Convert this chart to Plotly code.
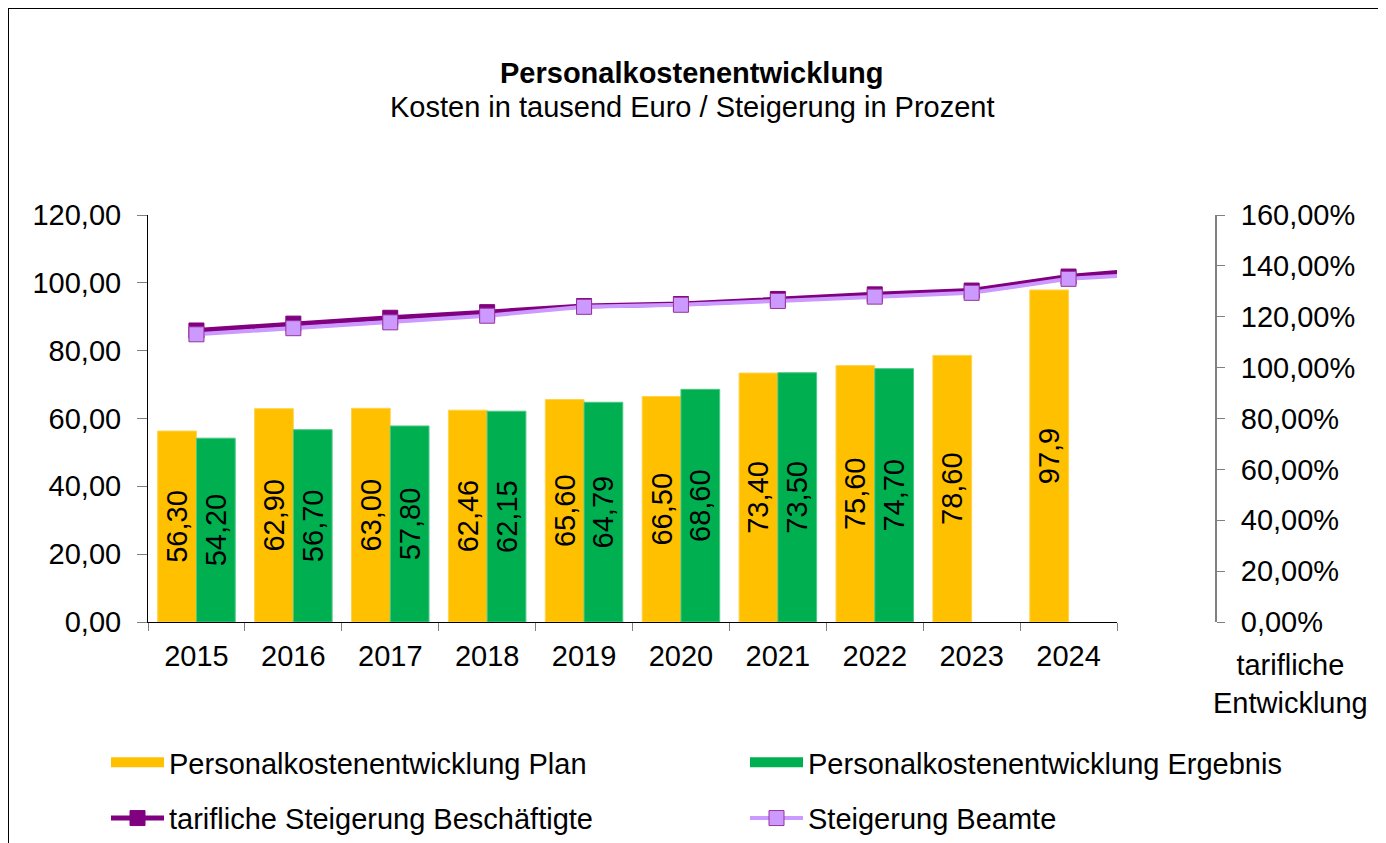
import plotly.graph_objects as go

# ---- data ----
years = ["2015", "2016", "2017", "2018", "2019", "2020", "2021", "2022", "2023", "2024"]
plan = [56.30, 62.90, 63.00, 62.46, 65.60, 66.50, 73.40, 75.60, 78.60, 97.9]
plan_labels = ["56,30", "62,90", "63,00", "62,46", "65,60", "66,50", "73,40", "75,60", "78,60", "97,9"]
ergebnis = [54.20, 56.70, 57.80, 62.15, 64.79, 68.60, 73.50, 74.70, None, None]
ergebnis_labels = ["54,20", "56,70", "57,80", "62,15", "64,79", "68,60", "73,50", "74,70", "", ""]
line_years = years + ["2025"]
beschaeftigte = [1.146, 1.173, 1.196, 1.218, 1.242, 1.250, 1.270, 1.288, 1.303, 1.358, 1.390]
beamte = [1.131, 1.155, 1.178, 1.204, 1.239, 1.247, 1.262, 1.279, 1.294, 1.349, 1.372]

# ---- layout constants (screen pixels; page body has an 8px margin) ----
OFF = 8
W, H = 1386 - OFF, 843 - OFF
L = 148 - OFF                 # left axis at screen x=148
T = 215 - OFF                 # top of value range at screen y=215
B = H - (622 - OFF)           # x axis at screen y=622
R = W - (1216 - OFF)          # right axis at screen x=1216
PW = W - L - R
PH = H - T - B
PLOT_RIGHT = 1117             # screen x of right edge of bar area
FONT = "Arial, Liberation Sans, sans-serif"
FS = 29

def px_x(sx):
    return (sx - OFF - L) / PW

def px_y(sy):
    return (H - B - (sy - OFF)) / PH

fig = go.Figure()

fig.add_trace(go.Bar(
    x=years, y=plan, name="Personalkostenentwicklung Plan",
    marker=dict(color="#FFC000", line=dict(color="#FFD34D", width=1)),
    text=plan_labels, textposition="inside", insidetextanchor="middle",
    textangle=-90, textfont=dict(color="black", size=FS, family=FONT),
    showlegend=False,
))
fig.add_trace(go.Bar(
    x=years, y=ergebnis, name="Personalkostenentwicklung Ergebnis",
    marker=dict(color="#00B050", line=dict(color="#4DC885", width=1)),
    text=ergebnis_labels, textposition="inside", insidetextanchor="middle",
    textangle=-90, textfont=dict(color="black", size=FS, family=FONT),
    showlegend=False,
))
fig.add_trace(go.Scatter(
    x=line_years, y=beschaeftigte, name="tarifliche Steigerung Beschäftigte",
    mode="lines+markers", yaxis="y2",
    line=dict(color="#800080", width=5),
    marker=dict(symbol="square", size=15, color="#800080", line=dict(color="#800080", width=1)),
    legend="legend", legendgroup="c", legendrank=2,
))
fig.add_trace(go.Scatter(
    x=line_years, y=beamte, name="Steigerung Beamte",
    mode="lines+markers", yaxis="y2",
    line=dict(color="#CC99FF", width=4),
    marker=dict(symbol="square", size=15, color="#CC99FF", line=dict(color="#993399", width=1)),
    legend="legend2", legendgroup="d", legendrank=2,
))
# legend swatches for the bar series (wide rectangles like the original)
fig.add_trace(go.Scatter(
    x=[None], y=[None], mode="lines", name="Personalkostenentwicklung Plan",
    line=dict(color="#FFC000", width=15),
    legend="legend", legendgroup="a", legendrank=1, hoverinfo="skip",
))
fig.add_trace(go.Scatter(
    x=[None], y=[None], mode="lines", name="Personalkostenentwicklung Ergebnis",
    line=dict(color="#00B050", width=15),
    legend="legend2", legendgroup="b", legendrank=1, hoverinfo="skip",
))

fig.update_layout(
    width=W, height=H,
    margin=dict(l=L, r=R, t=T, b=B, autoexpand=False),
    paper_bgcolor="white", plot_bgcolor="white",
    font=dict(family=FONT, size=FS, color="black"),
    separators=",.",
    barmode="group", bargap=0.2, bargroupgap=0,
    xaxis=dict(
        domain=[0, px_x(PLOT_RIGHT)], type="category",
        categoryorder="array", categoryarray=line_years,
        range=[-0.5, 9.5], showline=True, linecolor="black", linewidth=1,
        ticks="outside", tickson="boundaries", ticklen=8, tickcolor="#808080",
        ticklabelstandoff=8,
        showgrid=False, zeroline=False, tickfont=dict(size=FS),
    ),
    yaxis=dict(
        range=[0, 120], dtick=20, tickformat=".2f",
        showline=True, linecolor="black", linewidth=1,
        ticks="outside", ticklen=10, tickcolor="#808080",
        ticklabelstandoff=10,
        showgrid=False, zeroline=False, tickfont=dict(size=FS),
    ),
    yaxis2=dict(
        overlaying="y", side="right", anchor="free", position=1.0,
        range=[0, 1.6], dtick=0.2, tickformat=".2%",
        showline=True, linecolor="#808080", linewidth=2,
        ticks="outside", ticklen=8, tickcolor="#808080",
        ticklabelstandoff=10,
        showgrid=False, zeroline=False, tickfont=dict(size=FS),
    ),
    legend=dict(
        x=px_x(106), xanchor="left", y=px_y(737), yanchor="top",
        orientation="v", tracegroupgap=15, itemwidth=53,
        font=dict(size=FS), bgcolor="rgba(0,0,0,0)",
    ),
    legend2=dict(
        x=px_x(745), xanchor="left", y=px_y(737), yanchor="top",
        orientation="v", tracegroupgap=15, itemwidth=53,
        font=dict(size=FS), bgcolor="rgba(0,0,0,0)",
    ),
    annotations=[
        dict(text="<b>Personalkostenentwicklung</b>", xref="paper", yref="paper",
             x=px_x(692), y=px_y(73), xanchor="center", yanchor="middle",
             showarrow=False, font=dict(size=FS)),
        dict(text="Kosten in tausend Euro / Steigerung in Prozent", xref="paper", yref="paper",
             x=px_x(692), y=px_y(107), xanchor="center", yanchor="middle",
             showarrow=False, font=dict(size=FS)),
        dict(text="tarifliche<br>Entwicklung", xref="paper", yref="paper",
             x=px_x(1290), y=px_y(684), xanchor="center", yanchor="middle",
             showarrow=False, font=dict(size=FS)),
    ],
    shapes=[
        dict(type="rect", xref="paper", yref="paper",
             x0=px_x(8), x1=px_x(1379), y0=px_y(870), y1=px_y(8),
             line=dict(color="black", width=2), fillcolor="rgba(0,0,0,0)", layer="below"),
    ],
)

fig.write_html("out.html")
